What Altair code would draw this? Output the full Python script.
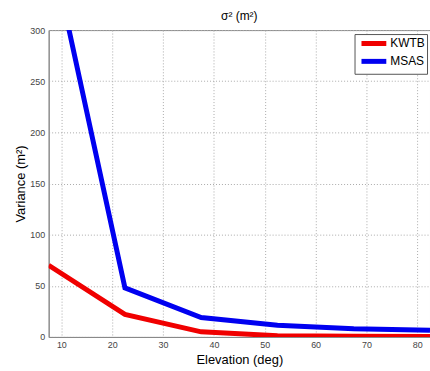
import altair as alt
import pandas as pd

elev = [7.5, 22.5, 37.5, 52.5, 67.5, 82.5]
kwtb = [70, 22, 5, 1.2, 0.6, 0.4]
msas = [392, 48, 19, 11.5, 8, 6.5]

rows = []
for e, v in zip(elev, kwtb):
    rows.append({"Elevation": e, "Variance": v, "Series": "KWTB"})
for e, v in zip(elev, msas):
    rows.append({"Elevation": e, "Variance": v, "Series": "MSAS"})
df = pd.DataFrame(rows)

font = "Liberation Sans"

chart = alt.Chart(df).mark_line(strokeWidth=5, clip=True).encode(
    x=alt.X("Elevation:Q", scale=alt.Scale(domain=[7.5, 82.5], nice=False, zero=False),
            axis=alt.Axis(values=[10, 20, 30, 40, 50, 60, 70, 80], title="Elevation (deg)",
                          titleFontSize=13, titleFontWeight="normal", titleColor="black",
                          titlePadding=4, labelFontSize=9, labelColor="#444",
                          ticks=False, labelPadding=4)),
    y=alt.Y("Variance:Q", scale=alt.Scale(domain=[0, 300], nice=False),
            axis=alt.Axis(values=[0, 50, 100, 150, 200, 250, 300], title="Variance (m²)",
                          titleFontSize=13, titleFontWeight="normal", titleColor="black",
                          titlePadding=2, labelFontSize=9, labelColor="#444",
                          ticks=False, labelPadding=4)),
    color=alt.Color("Series:N", scale=alt.Scale(domain=["KWTB", "MSAS"], range=["#f00000", "#0000f0"]),
                    legend=alt.Legend(title=None, orient="none", legendX=308, legendY=4,
                                      symbolType="M-2.5,0L2.5,0", symbolStrokeWidth=5, symbolSize=100,
                                      labelFontSize=12, labelColor="black",
                                      fillColor="white", strokeColor="#555", padding=2,
                                      rowPadding=-9, labelOffset=9, symbolOffset=10)),
).properties(
    width=384, height=309,
    title=alt.TitleParams("σ² (m²)", fontSize=12, fontWeight="normal", color="black",
                          font=font, offset=3, anchor="middle"),
    autosize=alt.AutoSizeParams(type="none"),
    padding={"left": 49, "top": 29, "right": 0, "bottom": 33},
).configure(font=font).configure_axis(
    grid=True, gridColor="#aaa", gridDash=[1, 2], gridWidth=1,
    domainColor="#888", labelFont=font, titleFont=font,
).configure_view(stroke="#888", strokeWidth=1)

chart.save("out.html", embed_options={"renderer": "svg", "actions": False})
